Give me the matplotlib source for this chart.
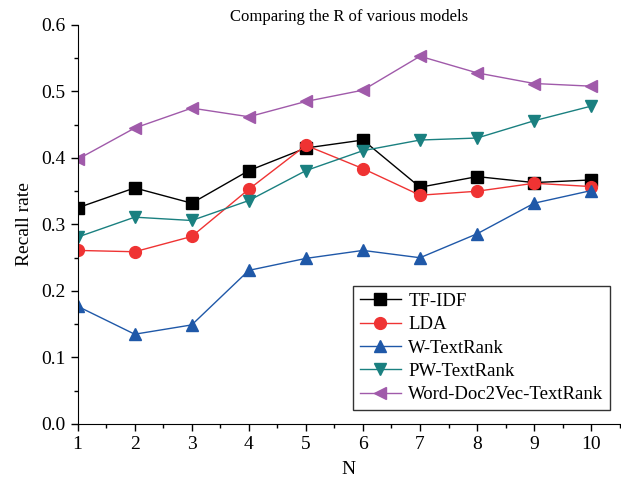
import numpy as np
import matplotlib.pyplot as plt
from matplotlib.ticker import MultipleLocator

plt.rcParams['font.family'] = ['Liberation Serif', 'DejaVu Serif']

n = [1, 2, 3, 4, 5, 6, 7, 8, 9, 10]
tfidf = [0.325, 0.355, 0.332, 0.381, 0.415, 0.427, 0.356, 0.372, 0.363, 0.367]
lda = [0.261, 0.259, 0.282, 0.353, 0.419, 0.384, 0.344, 0.350, 0.362, 0.357]
w_textrank = [0.177, 0.135, 0.149, 0.231, 0.249, 0.261, 0.250, 0.286, 0.332, 0.351]
pw_textrank = [0.281, 0.311, 0.306, 0.336, 0.381, 0.411, 0.427, 0.430, 0.456, 0.478]
wd2v_textrank = [0.398, 0.445, 0.475, 0.462, 0.485, 0.502, 0.553, 0.528, 0.512, 0.508]

labels = ['TF-IDF', 'LDA', 'W-TextRank', 'PW-TextRank', 'Word-Doc2Vec-TextRank']
colors = ['#000000', '#ef3333', '#1f58a8', '#1a8080', '#a05aaa']
markers = ['s', 'o', '^', 'v', '<']

fig = plt.figure(figsize=(6.21, 4.87), dpi=100)
ax = fig.add_axes([0.125, 0.1294, 0.873, 0.8193])

for y, lab, c, m in zip([tfidf, lda, w_textrank, pw_textrank, wd2v_textrank], labels, colors, markers):
    ax.plot(n, y, color=c, marker=m, markersize=8.5, linewidth=1.0, label=lab)

ax.set_xlim(1, 10.5)
ax.set_ylim(0, 0.6)
ax.xaxis.set_major_locator(MultipleLocator(1))
ax.xaxis.set_minor_locator(MultipleLocator(0.5))
ax.yaxis.set_major_locator(MultipleLocator(0.1))
ax.yaxis.set_minor_locator(MultipleLocator(0.05))
ax.set_xticks(range(1, 11))
ax.tick_params(axis='both', which='major', labelsize=14, length=5, width=1)
ax.tick_params(axis='both', which='minor', length=3, width=1)
ax.spines['top'].set_visible(False)
ax.spines['right'].set_visible(False)

ax.set_title('Comparing the R of various models', fontsize=12, pad=1)
ax.set_xlabel('N', fontsize=14, labelpad=6)
ax.set_ylabel('Recall rate', fontsize=14, labelpad=6)

leg = ax.legend(loc='lower right', bbox_to_anchor=(0.9995, 0.012), fontsize=13.5,
                frameon=True, fancybox=False, edgecolor='black',
                handlelength=2.2, borderpad=0.35, labelspacing=0.33, handletextpad=0.4)
leg.get_frame().set_linewidth(1.0)

fig.savefig('out.png', dpi=100)
